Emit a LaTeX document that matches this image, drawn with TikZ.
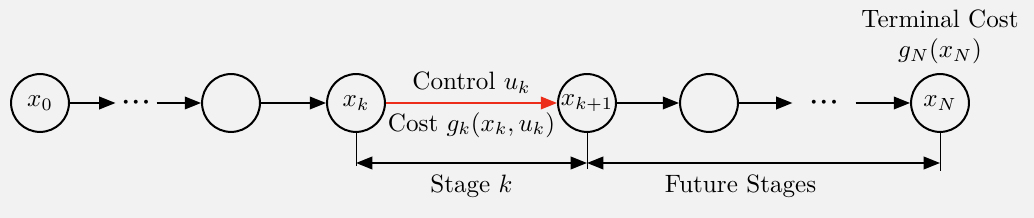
\documentclass[tikz,border=0pt]{standalone}
\usepackage{amsmath}
\usetikzlibrary{positioning, arrows.meta}
\definecolor{ctrlred}{RGB}{235,45,25}
\definecolor{bggray}{RGB}{242,242,242}
\newcommand{\bdots}{{\boldsymbol{\cdot}}\mkern1.5mu{\boldsymbol{\cdot}}\mkern1.5mu{\boldsymbol{\cdot}}}

\begin{document}
\begin{tikzpicture}[
    state/.style={circle, draw=black, thick, minimum size=0.81cm, inner sep=0pt},
    ellip/.style={minimum width=0.56cm, inner sep=0pt},
    arr/.style={-{Triangle[length=6.5pt, width=5pt]}, thick},
    ctrl/.style={-{Triangle[length=6.5pt, width=5pt]}, thick, draw=ctrlred},
    stagearr/.style={{Triangle[length=6.5pt, width=5pt]}-{Triangle[length=6.5pt, width=5pt]}, thick},
    guide/.style={draw=black, thin}
]
    \useasboundingbox[fill=bggray] (0,0) rectangle (14.476,3.052);

    \node[state] (x0) at (0.56, 1.61) {$x_0$};
    \node[ellip] (d1) at (1.904, 1.61) {$\bdots$};
    \node[state] (s1) at (3.234, 1.61) {};
    \node[state] (xk) at (4.984, 1.61) {$x_k$};
    \node[state] (xk1) at (8.218, 1.61) {$x_{k+1}$};
    \node[state] (s2) at (9.926, 1.61) {};
    \node[ellip, minimum width=0.87cm] (d2) at (11.536, 1.61) {$\bdots$};
    \node[state] (xN) at (13.16, 1.61) {$x_N$};

    \node[above=0pt of xN, align=center] (term) {Terminal Cost\\$g_N(x_N)$};

    \draw[arr] (x0) -- (d1);
    \draw[arr] (d1) -- (s1);
    \draw[arr] (s1) -- (xk);
    \draw[ctrl] (xk) -- node[above] (ctl) {Control $u_k$} node[below] (cst) {Cost $g_k(x_k,u_k)$} (xk1);
    \draw[arr] (xk1) -- (s2);
    \draw[arr] (s2) -- (d2);
    \draw[arr] (d2) -- (xN);

    % stage brackets
    \coordinate (lvl) at (0, 0.77);
    \draw[guide] (xk.south) -- ++(0,-0.47) coordinate (gk);
    \draw[guide] (xk1.south) -- ++(0,-0.50) coordinate (gk1);
    \draw[guide] (xN.south) -- ++(0,-0.53) coordinate (gN);

    \draw[stagearr] (xk |- lvl) -- node[below=1pt] (stg) {Stage $k$} (xk1 |- lvl);
    \draw[stagearr] (xk1 |- lvl) -- node[below=1pt, pos=0.435] (fut) {Future Stages} (xN |- lvl);
\end{tikzpicture}
\end{document}
